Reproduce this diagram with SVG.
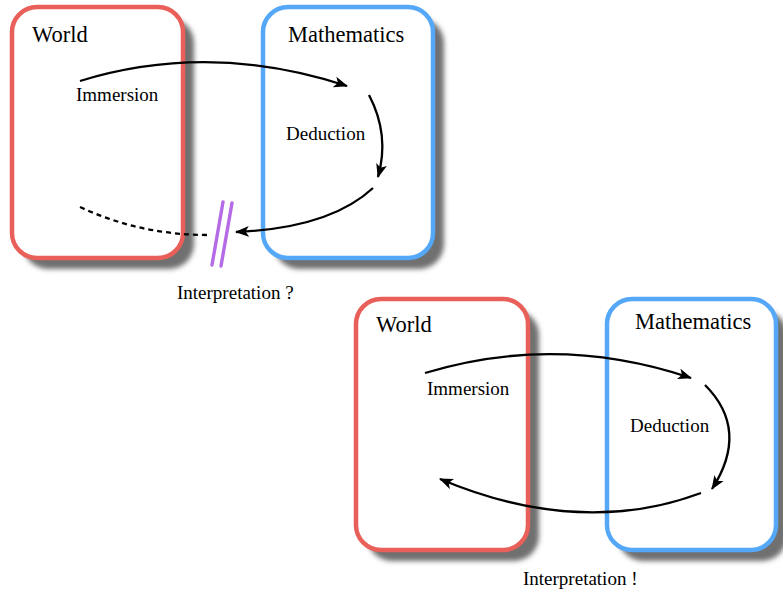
<svg xmlns="http://www.w3.org/2000/svg" width="783" height="593" viewBox="0 0 783 593">
<defs>
<filter id="sh" x="-20%" y="-20%" width="140%" height="140%"><feGaussianBlur stdDeviation="2.5"/></filter>
<marker id="ah" markerUnits="userSpaceOnUse" markerWidth="16" markerHeight="12" refX="13" refY="5.5" orient="auto"><path d="M0,0 L14,5.5 L0,11 L3.5,5.5 Z" fill="#000"/></marker>
</defs>
<style>
.shadow{fill:#707070;filter:url(#sh)}
.world{fill:#fff;stroke:#e9605a;stroke-width:4.5}
.math{fill:#fff;stroke:#55a7f7;stroke-width:4.5}
.c{fill:none;stroke:#000;stroke-width:2.3}
.cut{stroke:#b56ae6;stroke-width:3.4;stroke-linecap:round}
</style>
<g id="world1">
<rect class="shadow" x="23" y="18" width="171" height="251" rx="25"/>
<rect class="world" x="12" y="7" width="171" height="251" rx="25"/>
<text x="32" y="42" font-family="Liberation Serif, Times New Roman, DejaVu Serif, serif" font-size="22.5">World</text>
</g>
<g id="math1">
<rect class="shadow" x="274" y="18" width="170" height="251" rx="25"/>
<rect class="math" x="263" y="7" width="170" height="251" rx="25"/>
<text x="288" y="42" font-family="Liberation Serif, Times New Roman, DejaVu Serif, serif" font-size="22.5">Mathematics</text>
</g>
<g id="world2">
<rect class="shadow" x="367" y="310" width="172" height="251" rx="25"/>
<rect class="world" x="356" y="299" width="172" height="251" rx="25"/>
<text x="376" y="332" font-family="Liberation Serif, Times New Roman, DejaVu Serif, serif" font-size="22.5">World</text>
</g>
<g id="math2">
<rect class="shadow" x="618" y="310" width="169" height="251" rx="25"/>
<rect class="math" x="607" y="299" width="169" height="251" rx="25"/>
<text x="635" y="329" font-family="Liberation Serif, Times New Roman, DejaVu Serif, serif" font-size="22.5">Mathematics</text>
</g>
<g id="connectors">
<path class="c" d="M80,81 Q210,41 347,86" marker-end="url(#ah)"/>
<path class="c" d="M369,95 Q390,135 378,177" marker-end="url(#ah)"/>
<path class="c" d="M373,188 Q330,228 236,232" marker-end="url(#ah)"/>
<path class="c" d="M80,207 Q140,235 208,235" stroke-dasharray="5,4"/>
<line class="cut" x1="223" y1="202" x2="212" y2="265"/>
<line class="cut" x1="232" y1="203" x2="221" y2="266"/>
<path class="c" d="M425,373 Q557,333 691,378" marker-end="url(#ah)"/>
<path class="c" d="M705,385 Q750,430 712,489" marker-end="url(#ah)"/>
<path class="c" d="M701,493 Q580,538 440,479" marker-end="url(#ah)"/>
</g>
<g id="labels" font-family="Liberation Serif, Times New Roman, DejaVu Serif, serif" font-size="19">
<text x="76" y="101">Immersion</text>
<text x="286" y="140">Deduction</text>
<text x="177" y="299">Interpretation ?</text>
<text x="427" y="395">Immersion</text>
<text x="630" y="432">Deduction</text>
<text x="523" y="585">Interpretation !</text>
</g>
</svg>
